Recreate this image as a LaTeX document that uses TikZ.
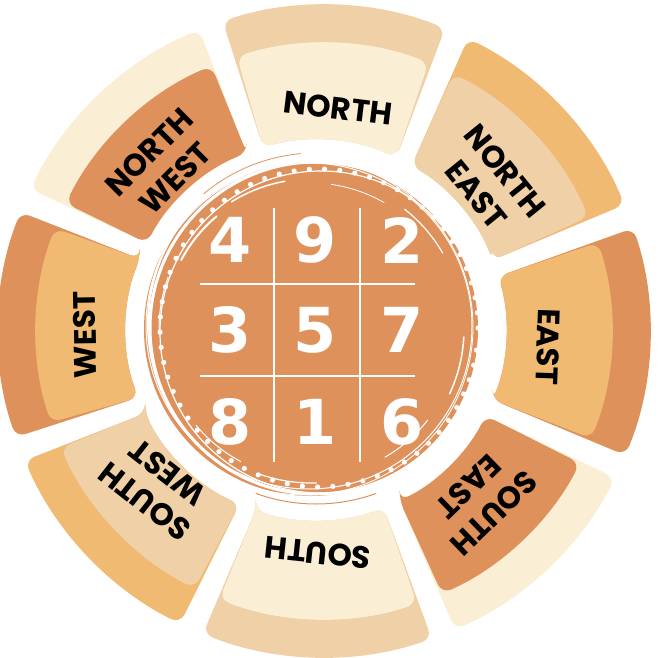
\documentclass[tikz,border=0pt]{standalone}
\usepackage{fontspec}
\newfontfamily\digfont{DejaVu Sans}
\newfontfamily\labfont{Poppins}
\usetikzlibrary{calc}
\definecolor{cDark}{HTML}{DF915C}
\definecolor{cOrange}{HTML}{F0BA73}
\definecolor{cTan}{HTML}{F0D0A6}
\definecolor{cCream}{HTML}{FAEED5}
\newcommand\sectorshape[6]{%
  \pgfmathsetmacro\aA{#1+2.6}\pgfmathsetmacro\aB{#2+2.2}%
  \pgfmathsetmacro\aC{#4-2.2}\pgfmathsetmacro\aD{#3-2.6}%
  \pgfmathsetmacro\mB{#2+2.7}\pgfmathsetmacro\mC{#4-2.7}%
  \fill[#5,rounded corners=10pt] ($(O1)+(\aA:190)$) -- ($(O2)+(\aB:326)$)
     arc[start angle=\aB, end angle=\aC, radius=326pt] -- ($(O1)+(\aD:190)$)
     arc[start angle=\aD, end angle=\aA, radius=190pt] -- cycle;
  \fill[#6,rounded corners=10pt] ($(O1)+(\aA:190)$) -- ($(O2)+(\mB:288)$)
     arc[start angle=\mB, end angle=\mC, radius=288pt] -- ($(O1)+(\aD:190)$)
     arc[start angle=\aD, end angle=\aA, radius=190pt] -- cycle;
}
\begin{document}
\begin{tikzpicture}[x=1pt,y=1pt,
  lab/.style={font=\labfont\bfseries\fontsize{31}{37}\selectfont, text=black, align=center, inner sep=0pt},
  dig/.style={font=\digfont\bfseries\fontsize{62}{62}\selectfont, text=white, inner sep=0pt},
  gridline/.style={white, line width=2pt},
  brush/.style={white, line cap=round}]
\useasboundingbox (0,0) rectangle (660,657);
\coordinate (O1) at (316,327);
\coordinate (O2) at (324,326);
% sectors: lo gap (in,out), hi gap (in,out)
\sectorshape{-24.2}{-24.6}{19}{20.6}{cDark}{cOrange}      % EAST
\sectorshape{19}{20.6}{62.4}{66}{cOrange}{cTan}           % NORTH EAST
\sectorshape{62.4}{66}{108.8}{110.3}{cTan}{cCream}        % NORTH
\sectorshape{108.8}{110.3}{155.4}{156.4}{cCream}{cDark}   % NORTH WEST
\sectorshape{155.4}{156.4}{203.4}{201.2}{cDark}{cOrange}  % WEST
\sectorshape{203.4}{201.2}{248.9}{246}{cOrange}{cTan}     % SOUTH WEST
\sectorshape{248.9}{246}{293.5}{291.5}{cTan}{cCream}      % SOUTH
\sectorshape{293.5}{291.5}{335.8}{335.4}{cCream}{cDark}   % SOUTH EAST
% central disk
\coordinate (C) at (311,328);
\fill[cDark] (C) circle[radius=167];
\draw[brush, line width=3pt] (316,329) circle[radius=166];
\draw[brush, line width=1.2pt] (321,325) circle[radius=161];
\draw[brush, line width=1pt] (309,331) circle[radius=163];
\draw[brush, line width=2pt] (318,333) circle[radius=170];
\draw[brush, line width=0.8pt] (305,330) circle[radius=168];
\foreach \a/\r/\w in {100/150/1.5, 130/147/2, 160/152/1, 30/152/1.2, 60/146/0.8, 220/150/1, 250/154/1.2, 300/148/1, 335/153/1.5}{
  \draw[brush, line width=\w pt] ($(C)+(\a:\r)$) arc[start angle=\a, end angle=\a+22, radius=\r];
}
\draw[cDark, line width=1pt] (316,329) ++(250:176) arc[start angle=250, end angle=290, radius=176];
\draw[cDark, line width=0.8pt] (316,329) ++(95:175) arc[start angle=95, end angle=130, radius=175];
\foreach \a in {0,5.5,...,354}{
  \fill[white] ($(319,329)+(\a:159)$) circle[radius=2.6];
}
% grid
\draw[gridline] (273.5,449) -- (273.5,195);
\draw[gridline] (360,449) -- (360,195);
\draw[gridline] (200,373) -- (415,373);
\draw[gridline] (200,281) -- (415,281);
% digits
\node[dig] (d4) at (230,417) {4};
\node[dig] (d9) at (315,417) {9};
\node[dig] (d2) at (402,417) {2};
\node[dig] (d3) at (230,327) {3};
\node[dig] (d5) at (315,327) {5};
\node[dig] (d7) at (402,327) {7};
\node[dig] (d8) at (230,235) {8};
\node[dig] (d1) at (315,235) {1};
\node[dig] (d6) at (402,235) {6};
% labels
\node[lab, rotate=-7] (lN) at (338,549) {NORTH};
\node[lab, rotate=-51] (lNE) at (491,474) {NORTH\\EAST};
\node[lab, rotate=45] (lNW) at (162,492) {NORTH\\WEST};
\node[lab, rotate=91] (lW) at (85,322) {WEST};
\node[lab, rotate=-92] (lE) at (548,310) {EAST};
\node[lab, rotate=-136] (lSE) at (481,157) {SOUTH\\EAST};
\node[lab, rotate=174] (lS) at (318,104) {SOUTH};
\node[lab, rotate=142] (lSW) at (156,170) {SOUTH\\WEST};
\end{tikzpicture}
\end{document}
